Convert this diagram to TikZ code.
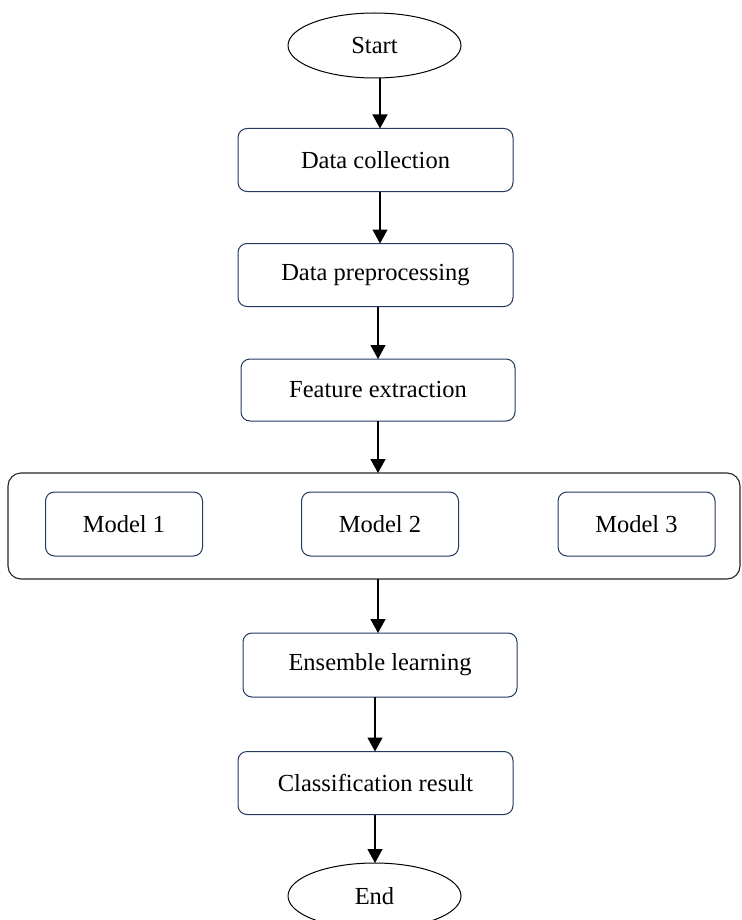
\documentclass[tikz,border=0pt]{standalone}
\usepackage{fontspec}
\setmainfont{Liberation Serif}
\usetikzlibrary{shapes.geometric,arrows.meta}
\definecolor{boxline}{HTML}{22385E}
\tikzset{
  every node/.style={inner sep=0pt, outer sep=0pt, font=\fontsize{24.5}{27}\selectfont},
  term/.style={ellipse, draw=black, line width=1pt, minimum width=173pt, minimum height=65pt},
  proc/.style={rectangle, rounded corners=9pt, draw=boxline, line width=1pt, minimum width=275pt, minimum height=63pt},
  modelbox/.style={rectangle, rounded corners=9pt, draw=boxline, line width=1pt, minimum width=157pt, minimum height=64pt},
  group/.style={rectangle, rounded corners=13pt, draw=black!85, line width=1.1pt, minimum width=732pt, minimum height=106pt},
  arr/.style={draw=black, line width=1.2pt, -{Triangle[length=14pt,width=15pt]}}
}
\begin{document}
\begin{tikzpicture}[x=1pt,y=-1pt]
\useasboundingbox (0,0) rectangle (741,920);
\clip (0,0) rectangle (741,920);
\fill[white] (0,0) rectangle (741,920);
\node[term] (start) at (374.5,45.5) {Start};
\node[proc] (dc) at (375.5,160) {Data collection};
\node[proc] (dp) at (375.5,275) {Data preprocessing};
\node[proc, minimum width=274pt, minimum height=62pt] (fe) at (378,390) {Feature extraction};
\node[group] (grp) at (374,526) {};
\node[modelbox] (m1) at (124,524) {Model 1};
\node[modelbox] (m2) at (380,524) {Model 2};
\node[modelbox] (m3) at (636.5,524) {Model 3};
\node[proc, minimum width=274pt, minimum height=64pt] (el) at (380,665) {Ensemble learning};
\node[proc] (cr) at (375.5,783) {Classification result};
\node[term, minimum height=66pt] (end) at (374.5,896) {End};
\coordinate (a1) at (380,0);
\coordinate (a2) at (380,0);
\coordinate (a3) at (378,0);
\coordinate (a4) at (378,0);
\coordinate (a5) at (378,0);
\coordinate (a6) at (375,0);
\coordinate (a7) at (375,0);
\draw[arr] (a1 |- start.south) -- (a1 |- dc.north);
\draw[arr] (a2 |- dc.south) -- (a2 |- dp.north);
\draw[arr] (a3 |- dp.south) -- (a3 |- fe.north);
\draw[arr] (a4 |- fe.south) -- (a4 |- grp.north);
\draw[arr] (a5 |- grp.south) -- (a5 |- el.north);
\draw[arr] (a6 |- el.south) -- (a6 |- cr.north);
\draw[arr] (a7 |- cr.south) -- (a7 |- end.north);
\end{tikzpicture}
\end{document}
